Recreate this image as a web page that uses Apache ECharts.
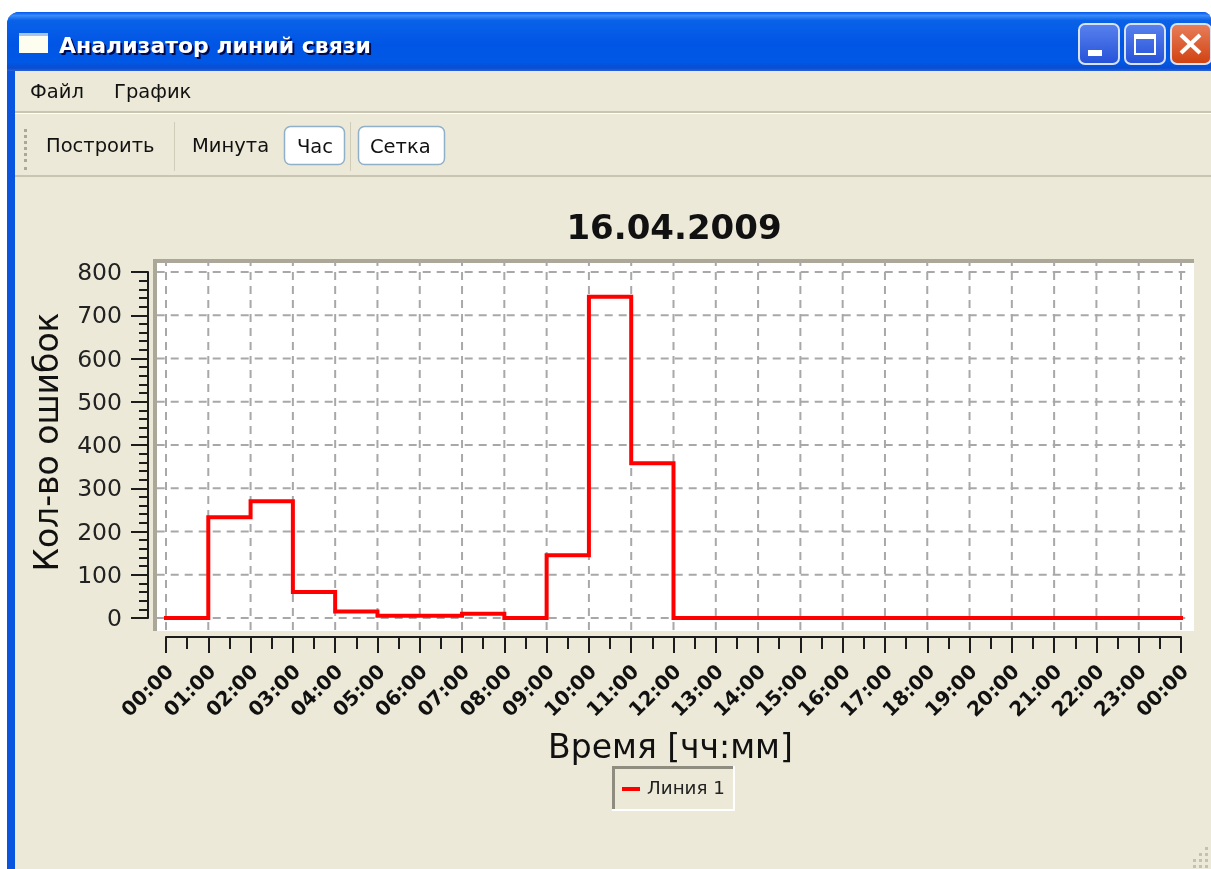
<!DOCTYPE html>
<html><head><meta charset="utf-8">
<style>html,body{margin:0;padding:0;background:#fff}#c{width:1211px;height:869px}</style>
<script src="https://cdn.jsdelivr.net/npm/echarts@6/dist/echarts.min.js"></script>
</head><body><div id="c"></div>
<script>
const hours = [0,1,2,3,4,5,6,7,8,9,10,11,12,13,14,15,16,17,18,19,20,21,22,23,24];
const errors = [0,233,270,60,15,5,5,10,0,145,743,358,0,0,0,0,0,0,0,0,0,0,0,0,0];
const tickLabels = ['00:00','01:00','02:00','03:00','04:00','05:00','06:00','07:00','08:00','09:00','10:00','11:00','12:00','13:00','14:00','15:00','16:00','17:00','18:00','19:00','20:00','21:00','22:00','23:00','00:00'];
const yGridValues = [0,100,200,300,400,500,600,700,800];
const chartTitle = '16.04.2009';
const xTitle = 'Время [чч:мм]';
const yTitle = 'Кол-во ошибок';
const seriesName = 'Линия 1';
const windowTitle = 'Анализатор линий связи';

const FACE='#ece9d8', F='"DejaVu Sans", sans-serif';
const lin=(stops)=>({type:'linear',x:0,y:0,x2:0,y2:1,colorStops:stops.map(s=>({offset:s[0],color:s[1]}))});
const rect=(x,y,w,h,fill,extra)=>Object.assign({type:'rect',shape:{x,y,width:w,height:h,r:(extra&&extra.r)||0},style:Object.assign({fill},(extra&&extra.style)||{}),silent:true,z:-10},extra&&extra.z!=null?{z:extra.z}:{});
const text=(x,y,t,size,color,extra)=>({type:'text',x,y,silent:true,z:-5,style:Object.assign({text:t,fontFamily:F,fontSize:size,fill:color,textVerticalAlign:'middle',verticalAlign:'middle'},extra||{})});
const g=[];
// window frame
g.push({type:'rect',shape:{x:7,y:12,width:1204,height:857,r:[12,8,0,0]},style:{fill:'#0a55e0'},silent:true,z:-10});
g.push({type:'rect',shape:{x:7,y:12,width:1204,height:59,r:[12,8,0,0]},style:{fill:lin([[0,'#0058ee'],[0.06,'#3a8cf8'],[0.14,'#0a62e8'],[0.55,'#0055e5'],[0.85,'#0058e6'],[0.95,'#0a4cd0'],[1,'#2a62d8']])},silent:true,z:-10});
g.push(rect(15,71,1196,798,FACE));
g.push(rect(19,33,29,20,'#fdfdf0'));
g.push(rect(19,33,29,3,'#a8c4ee'));
g.push(text(61,49,windowTitle,22,'#000a50',{fontWeight:'bold'}));
g.push(text(59,47,windowTitle,22,'#ffffff',{fontWeight:'bold'}));
// caption buttons
const btn=(x,c1,c2)=>({type:'rect',shape:{x,y:24,width:40,height:40,r:6},style:{fill:lin([[0,c1],[1,c2]]),stroke:'#d6e2f8',lineWidth:2},silent:true,z:-9});
g.push(btn(1079,'#5a83ee','#2450d8'));
g.push(btn(1125,'#5a83ee','#2450d8'));
g.push(btn(1171,'#e8805c','#d0400e'));
g.push(rect(1088,50,14,6,'#fff',{z:-8}));
g.push({type:'rect',shape:{x:1135,y:35,width:20,height:19},style:{fill:'none',stroke:'#fff',lineWidth:2},silent:true,z:-8});
g.push(rect(1134,34,22,5,'#fff',{z:-8}));
g.push({type:'line',shape:{x1:1181,y1:35,x2:1200,y2:53},style:{stroke:'#fff',lineWidth:4},silent:true,z:-8});
g.push({type:'line',shape:{x1:1200,y1:35,x2:1181,y2:53},style:{stroke:'#fff',lineWidth:4},silent:true,z:-8});
// menu
g.push(text(30,93,'Файл',19.5,'#111'));
g.push(text(114,93,'График',19.5,'#111'));
g.push(rect(15,111,1196,2,'#c8c5b2'));
g.push(rect(15,113,1196,1,'#ffffff'));
// toolbar
[129,135,141,147,153,159,167].forEach(y=>g.push(rect(24,y,3,3,'#aaa89a')));
g.push(text(46,147,'Построить',19.5,'#111'));
g.push(rect(174,122,1,49,'#cfccb9'));
g.push(text(192,147,'Минута',19.5,'#111'));
g.push({type:'rect',shape:{x:284.5,y:126.5,width:60,height:38,r:6},style:{fill:'#fff',stroke:'#8fb0c8',lineWidth:1.5},silent:true,z:-9});
g.push(text(297,148,'Час',19.5,'#111'));
g.push(rect(350,122,1,49,'#cfccb9'));
g.push({type:'rect',shape:{x:358.5,y:126.5,width:86,height:38,r:6},style:{fill:'#fff',stroke:'#8fb0c8',lineWidth:1.5},silent:true,z:-9});
g.push(text(370,148,'Сетка',19.5,'#111'));
g.push(rect(15,175,1196,2,'#c8c5b2'));
// plot canvas
g.push(rect(153,259,1041,372,'#ffffff',{z:-7}));
g.push(rect(153,259,1041,4,'#aca899',{z:-6}));
g.push(rect(153,259,4,372,'#aca899',{z:-6}));
// legend frame
g.push(rect(612,766,123,3,'#8f8d80',{z:-6}));
g.push(rect(612,766,3,45,'#8f8d80',{z:-6}));
g.push(rect(612,809,123,2,'#ffffff',{z:-6}));
g.push(rect(733,766,2,45,'#ffffff',{z:-6}));
// size grip
[[1205,847],[1199,853],[1205,853],[1193,859],[1199,859],[1205,859],[1193,865],[1199,865],[1205,865]].forEach(p=>g.push(rect(p[0],p[1],3,3,'#c4c1ae')));

const chart=echarts.init(document.getElementById('c'),null,{renderer:'canvas'});
const axisStroke={color:'#1c1c1c',width:2};
// plot-frame limits in data units: the grid lines run on to the canvas edge
const xEdge=[-0.22,24.1], yEdge=[-28,826];
const gridData=[...hours.map(h=>['v',h]),...yGridValues.map(v=>['h',v])];
chart.setOption({
  animation:false,
  backgroundColor:'#ffffff',
  title:{text:chartTitle,left:669,top:208,textAlign:'center',textStyle:{fontFamily:F,fontWeight:'bold',fontSize:34,color:'#111'}},
  grid:{left:166,right:30,top:272,bottom:251,containLabel:false},
  legend:{left:622,top:780,padding:0,itemWidth:18,itemHeight:4,icon:'rect',itemGap:0,
    data:[{name:seriesName}],
    textStyle:{fontFamily:F,fontSize:18.3,color:'#222',padding:[0,0,0,2]}},
  xAxis:{type:'value',min:0,max:24,interval:1,offset:19,
    name:xTitle,nameLocation:'middle',nameGap:96,
    nameTextStyle:{fontFamily:F,fontSize:33,color:'#111',padding:[0,6,0,0]},
    axisLine:{show:true,onZero:false,lineStyle:axisStroke},
    axisTick:{show:true,length:16,lineStyle:axisStroke},
    minorTick:{show:true,splitNumber:2,length:12,lineStyle:axisStroke},
    splitLine:{show:false},
    axisLabel:{rotate:45,margin:37,padding:[0,-7,0,0],fontFamily:F,fontSize:20,fontWeight:'bold',color:'#111',hideOverlap:false,
      showMinLabel:true,showMaxLabel:true,formatter:v=>tickLabels[v]}},
  yAxis:{type:'value',min:0,max:800,interval:100,offset:18,
    name:yTitle,nameLocation:'middle',nameGap:59,
    nameTextStyle:{fontFamily:F,fontSize:33,color:'#111',padding:[0,0,0,6]},
    axisLine:{show:true,onZero:false,lineStyle:axisStroke},
    axisTick:{show:true,length:17,lineStyle:axisStroke},
    minorTick:{show:true,splitNumber:5,length:9,lineStyle:axisStroke},
    splitLine:{show:false},
    axisLabel:{margin:26,showMinLabel:true,showMaxLabel:true,formatter:'{n|{value}}',
      rich:{n:{fontFamily:F,fontSize:23.5,color:'#222',padding:[4,0,0,0]}}}},
  series:[
    {type:'custom',coordinateSystem:'cartesian2d',silent:true,z:1,clip:false,data:gridData,encode:{x:1,y:1},
      legendHoverLink:false,
      renderItem:(p,api)=>{
        const d=gridData[p.dataIndex];
        const a=d[0]==='v'?api.coord([d[1],yEdge[0]]):api.coord([xEdge[0],d[1]]);
        const b=d[0]==='v'?api.coord([d[1],yEdge[1]]):api.coord([xEdge[1],d[1]]);
        return {type:'line',shape:{x1:a[0],y1:a[1],x2:b[0],y2:b[1]},style:{stroke:'#a8a8a8',lineWidth:2,lineDash:[8,6],fill:null}};
      }},
    {name:seriesName,type:'line',step:'end',showSymbol:false,symbol:'none',clip:false,z:3,
      lineStyle:{color:'#ff0000',width:4,cap:'square',join:'miter'},itemStyle:{color:'#ff0000'},
      data:hours.map((h,i)=>[h,errors[i]])}
  ],
  graphic:{elements:g}
});
</script></body></html>
